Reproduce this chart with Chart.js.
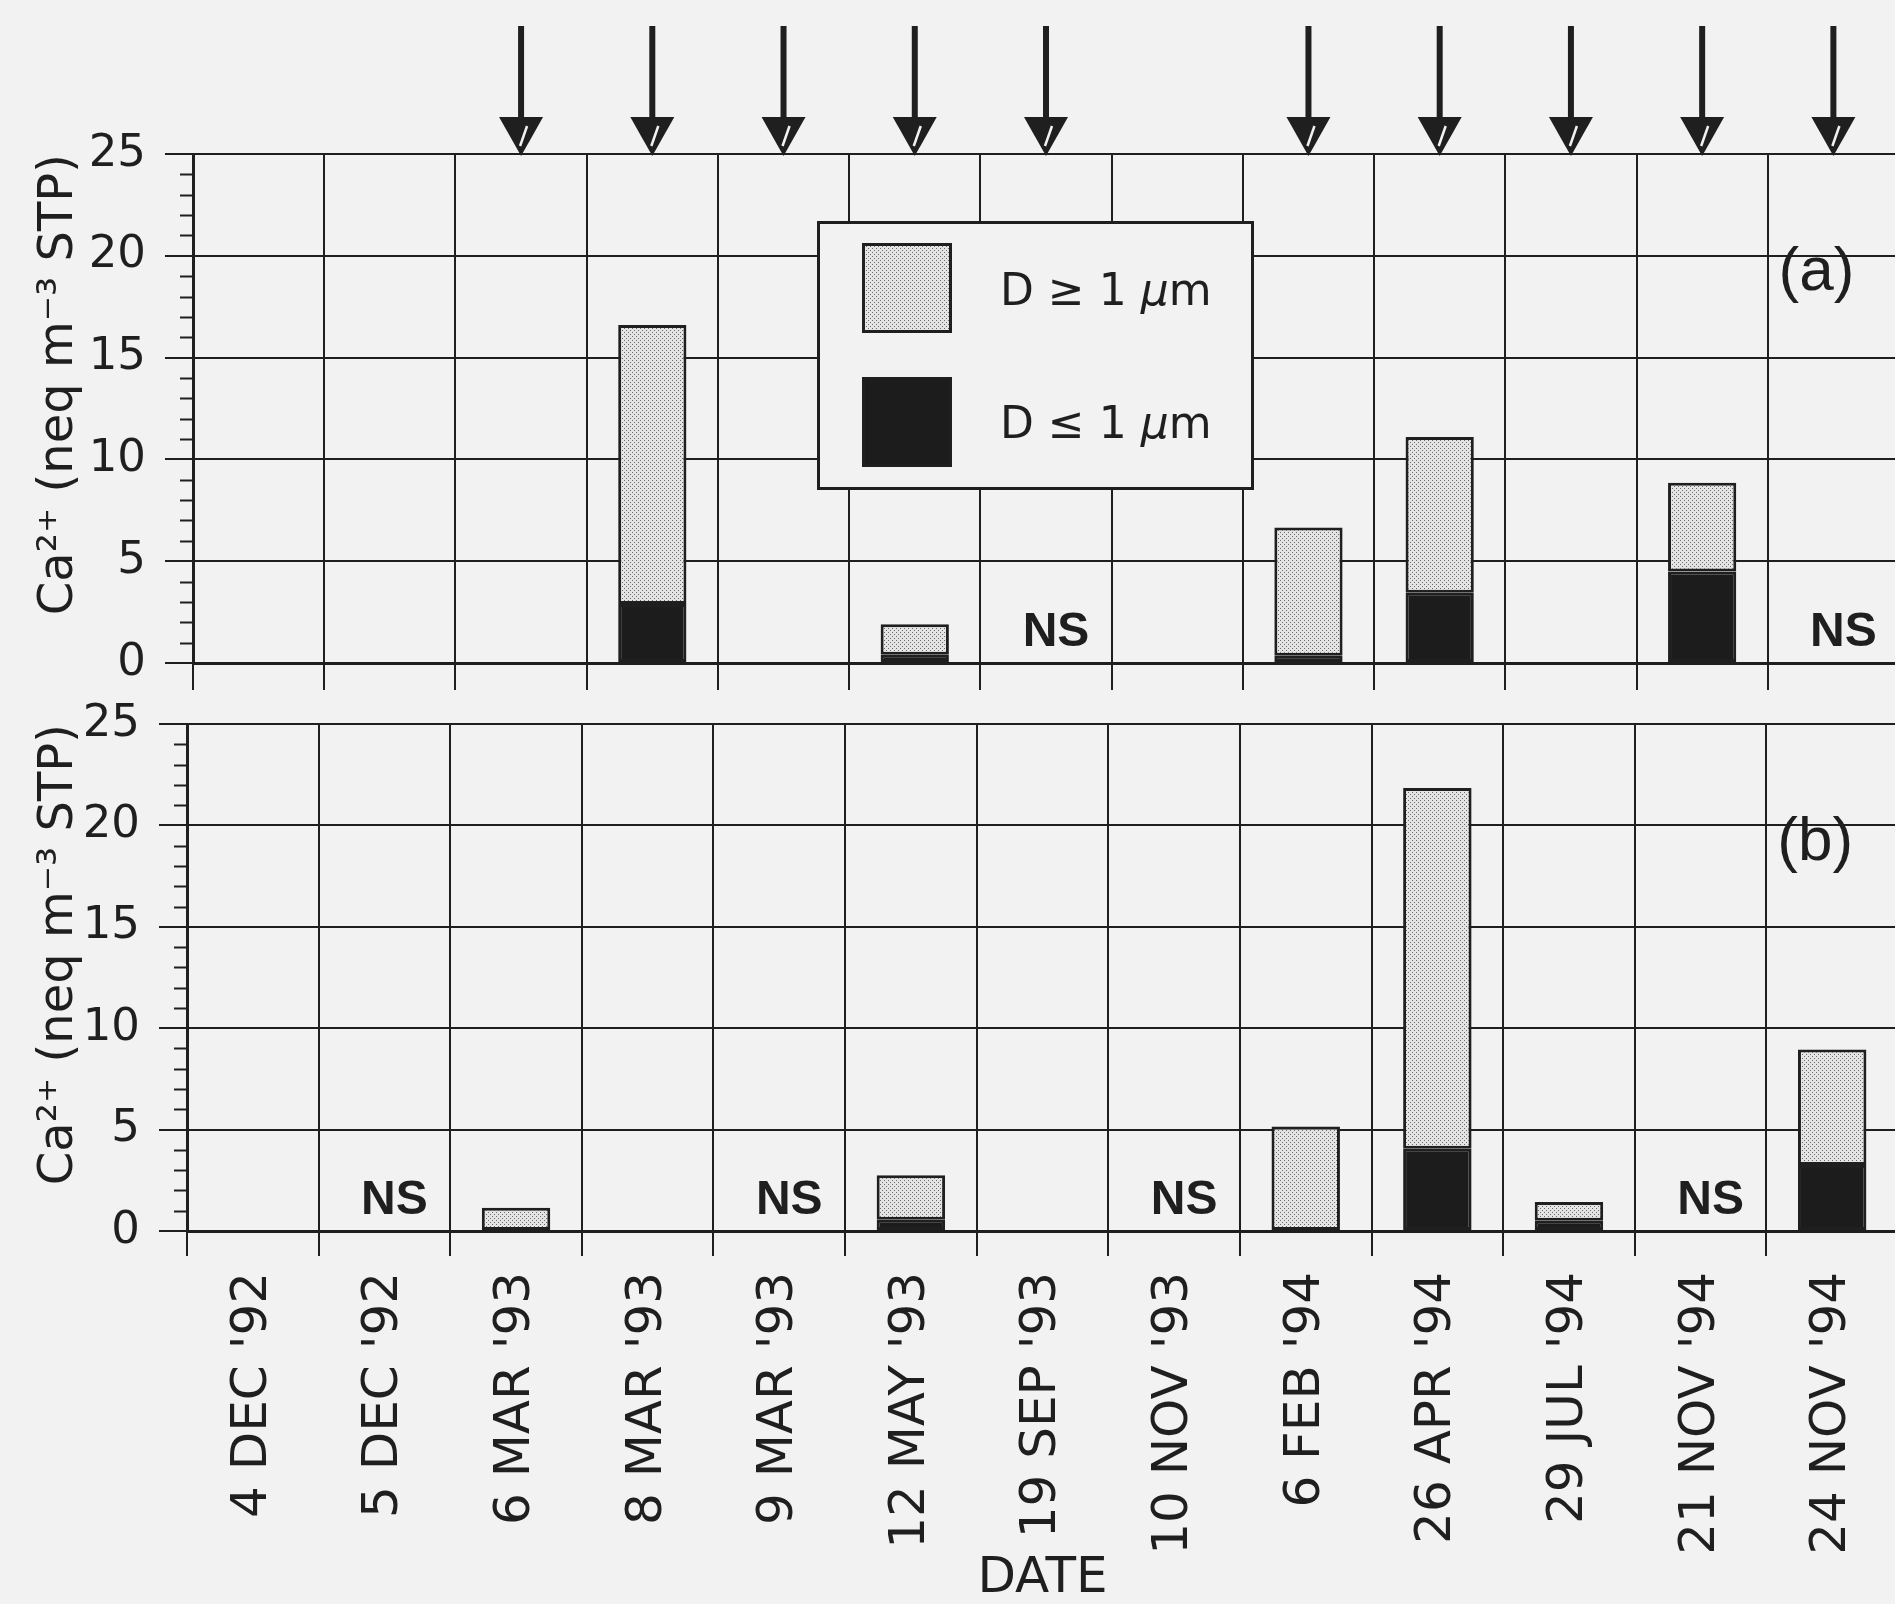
<!DOCTYPE html>
<html><head><meta charset="utf-8">
<script src="https://cdn.jsdelivr.net/npm/chart.js@4.4.1/dist/chart.umd.min.js"></script>
<style>
html,body{margin:0;padding:0;background:#f2f2f2;overflow:hidden;}
#wrap{position:relative;width:1895px;height:1604px;overflow:hidden;background:#f2f2f2;}
canvas{position:absolute;left:0;}
#c1{top:0;}
#c2{top:680px;}
</style></head><body>
<div id="wrap">
<canvas id="c1" width="1900" height="700"></canvas>
<canvas id="c2" width="1900" height="924"></canvas>
</div>
<script>
// ---- data ----
const categories = ["4 DEC '92","5 DEC '92","6 MAR '93","8 MAR '93","9 MAR '93","12 MAY '93","19 SEP '93","10 NOV '93","6 FEB '94","26 APR '94","29 JUL '94","21 NOV '94","24 NOV '94"];
const fineA   = [null,null,null,2.9, null,0.4, null,null,0.35,3.45,null,4.5, null];
const coarseA = [null,null,null,13.7,null,1.5, null,null,6.3, 7.65,null,4.35,null];
const fineB   = [null,null,0,   null,null,0.55,null,null,0,   4.05,0.5, null,3.25];
const coarseB = [null,null,1.15,null,null,2.2, null,null,5.15,17.8,0.93,null,5.7];
const nsA = [0,0,0,0,0,0,1,0,0,0,0,0,1];
const nsB = [0,1,0,0,1,0,0,1,0,0,0,1,0];
const arrowFlags = [0,0,1,1,1,1,1,0,1,1,1,1,1];
const seriesLabels = ["D \u2264 1 \u03bcm", "D \u2265 1 \u03bcm"];
const panelLabels = ["(a)", "(b)"];
const yTitle = "Ca\u00b2\u207a (neq m\u207b\u00b3 STP)";
const xTitle = "DATE";
const yMin = 0, yMax = 25, yStep = 5;

// ---- style ----
const INK = '#1f1f1f';
const BG = '#f2f2f2';
Chart.defaults.font.family = "'DejaVu Sans', sans-serif";
Chart.defaults.color = INK;

const patCanvas = document.createElement('canvas');
patCanvas.width = 4; patCanvas.height = 4;
(function(){
  const g = patCanvas.getContext('2d');
  g.fillStyle = '#e4e4e4'; g.fillRect(0,0,4,4);
  g.fillStyle = '#6a6a6a'; g.fillRect(0,0,1,1); g.fillRect(2,2,1,1);
})();

const minorTicks = {
  id: 'minorTicks',
  afterDraw(chart) {
    const y = chart.scales.y, c = chart.ctx, L = chart.chartArea.left;
    c.save(); c.strokeStyle = INK; c.lineWidth = 2;
    for (let v = yMin; v <= yMax; v++) {
      if (v % yStep === 0) continue;
      const py = Math.round(y.getPixelForValue(v)) + 0.5;
      c.beginPath(); c.moveTo(L - 13, py); c.lineTo(L, py); c.stroke();
    }
    c.restore();
  }
};

function nsPlugin(flags) {
  return { id: 'ns', afterDatasetsDraw(chart) {
    const x = chart.scales.x, y = chart.scales.y, c = chart.ctx;
    c.save(); c.fillStyle = INK; c.font = "bold 48px 'Liberation Sans'";
    c.textAlign = 'center'; c.textBaseline = 'alphabetic';
    flags.forEach((f, i) => { if (f) c.fillText('NS', x.getPixelForValue(i) + 10, y.getPixelForValue(0) - 17); });
    c.restore();
  }};
}

function panelLabelPlugin(text) {
  return { id: 'panelLabel', afterDatasetsDraw(chart) {
    const x = chart.scales.x, y = chart.scales.y, c = chart.ctx;
    c.save(); c.fillStyle = INK; c.font = "62px 'Liberation Sans'";
    c.textAlign = 'center'; c.textBaseline = 'middle';
    c.fillText(text, x.getPixelForValue(categories.length - 1) - 17, y.getPixelForValue(19.15));
    c.restore();
  }};
}

const arrowPlugin = { id: 'arrows', afterDraw(chart) {
  const x = chart.scales.x, c = chart.ctx, top = chart.chartArea.top;
  c.save();
  arrowFlags.forEach((f, i) => {
    if (!f) return;
    const px = x.getPixelForValue(i);
    c.strokeStyle = INK; c.lineWidth = 6;
    c.beginPath(); c.moveTo(px, 26); c.lineTo(px, top - 34); c.stroke();
    c.fillStyle = INK;
    c.beginPath(); c.moveTo(px - 22, top - 37); c.lineTo(px + 22, top - 37); c.lineTo(px, top + 2); c.closePath(); c.fill();
    c.strokeStyle = BG; c.lineWidth = 2.5;
    c.beginPath(); c.moveTo(px + 6, top - 28); c.lineTo(px - 1, top - 8); c.stroke();
  });
  c.restore();
}};

function drawRich(c, text, x, y) {
  const parts = text.split('\u03bc');
  const reg = "44px 'DejaVu Sans'", ita = "italic 44px 'DejaVu Sans'";
  let cx = x;
  parts.forEach((p, k) => {
    c.font = reg; c.fillText(p, cx, y); cx += c.measureText(p).width;
    if (k < parts.length - 1) { c.font = ita; c.fillText('\u03bc', cx, y); cx += c.measureText('\u03bc').width; }
  });
}

const legendPlugin = { id: 'boxLegend', afterDraw(chart) {
  const c = chart.ctx;
  c.save();
  c.fillStyle = BG; c.fillRect(818, 222, 434, 266);
  c.strokeStyle = INK; c.lineWidth = 3; c.strokeRect(818.5, 222.5, 434, 266);
  const order = [1, 0];
  const sy = [243, 377], ty = [305, 438];
  order.forEach((di, k) => {
    const ds = chart.data.datasets[di];
    c.fillStyle = ds.backgroundColor; c.fillRect(862, sy[k], 90, 90);
    c.strokeStyle = INK; c.lineWidth = 3; c.strokeRect(863.5, sy[k] + 1.5, 87, 87);
    c.fillStyle = INK; c.textAlign = 'left'; c.textBaseline = 'alphabetic';
    drawRich(c, ds.label, 1000, ty[k]);
  });
  c.restore();
}};

function makeChart(id, fine, coarse, cfg) {
  const ctx = document.getElementById(id).getContext('2d');
  const pattern = ctx.createPattern(patCanvas, 'repeat');
  const barCommon = { borderColor: INK, borderWidth: 3, borderSkipped: false, barPercentage: 0.52, categoryPercentage: 1.0 };
  return new Chart(ctx, {
    type: 'bar',
    data: { labels: categories, datasets: [
      Object.assign({ label: seriesLabels[0], data: fine, backgroundColor: '#1c1c1c' }, barCommon),
      Object.assign({ label: seriesLabels[1], data: coarse, backgroundColor: pattern }, barCommon)
    ]},
    options: {
      responsive: false, animation: false, devicePixelRatio: 1,
      layout: { padding: { top: cfg.padTop, left: 0, right: cfg.padRight, bottom: 0 } },
      plugins: { legend: { display: false }, tooltip: { enabled: false } },
      scales: {
        x: {
          stacked: true, offset: true,
          grid: { offset: true, color: INK, lineWidth: 2, tickLength: cfg.xTick, drawTicks: true },
          border: { color: INK, width: 3 },
          ticks: { display: cfg.showX, autoSkip: false, minRotation: 90, maxRotation: 90, padding: 16, color: INK, font: { size: 50 } },
          title: { display: cfg.showX, text: xTitle, color: INK, font: { size: 50, lineHeight: 1.0 }, padding: { top: 0, bottom: 0 } },
          afterFit: s => { s.height = cfg.xHeight; s.paddingLeft = 0; s.paddingRight = 0; }
        },
        y: {
          stacked: true, min: yMin, max: yMax,
          ticks: { stepSize: yStep, padding: 19, color: INK, font: { size: 45 } },
          grid: { color: INK, lineWidth: 2, tickLength: 28 },
          border: { color: INK, width: 3 },
          title: { display: true, text: yTitle, align: 'end', color: INK, font: { size: 48, lineHeight: 1.2 }, padding: { top: 31, bottom: 0 } },
          afterFit: s => { s.width = cfg.left; s.paddingTop = 0; s.paddingBottom = 0; }
        }
      }
    },
    plugins: cfg.plugins
  });
}

makeChart('c1', fineA, coarseA, {
  padTop: 154, padRight: 1, xTick: 27, xHeight: 37, left: 193, showX: false,
  plugins: [minorTicks, nsPlugin(nsA), panelLabelPlugin(panelLabels[0]), arrowPlugin, legendPlugin]
});
makeChart('c2', fineB, coarseB, {
  padTop: 44, padRight: 2, xTick: 25, xHeight: 373, left: 187, showX: true,
  plugins: [minorTicks, nsPlugin(nsB), panelLabelPlugin(panelLabels[1])]
});
</script>
</body></html>
